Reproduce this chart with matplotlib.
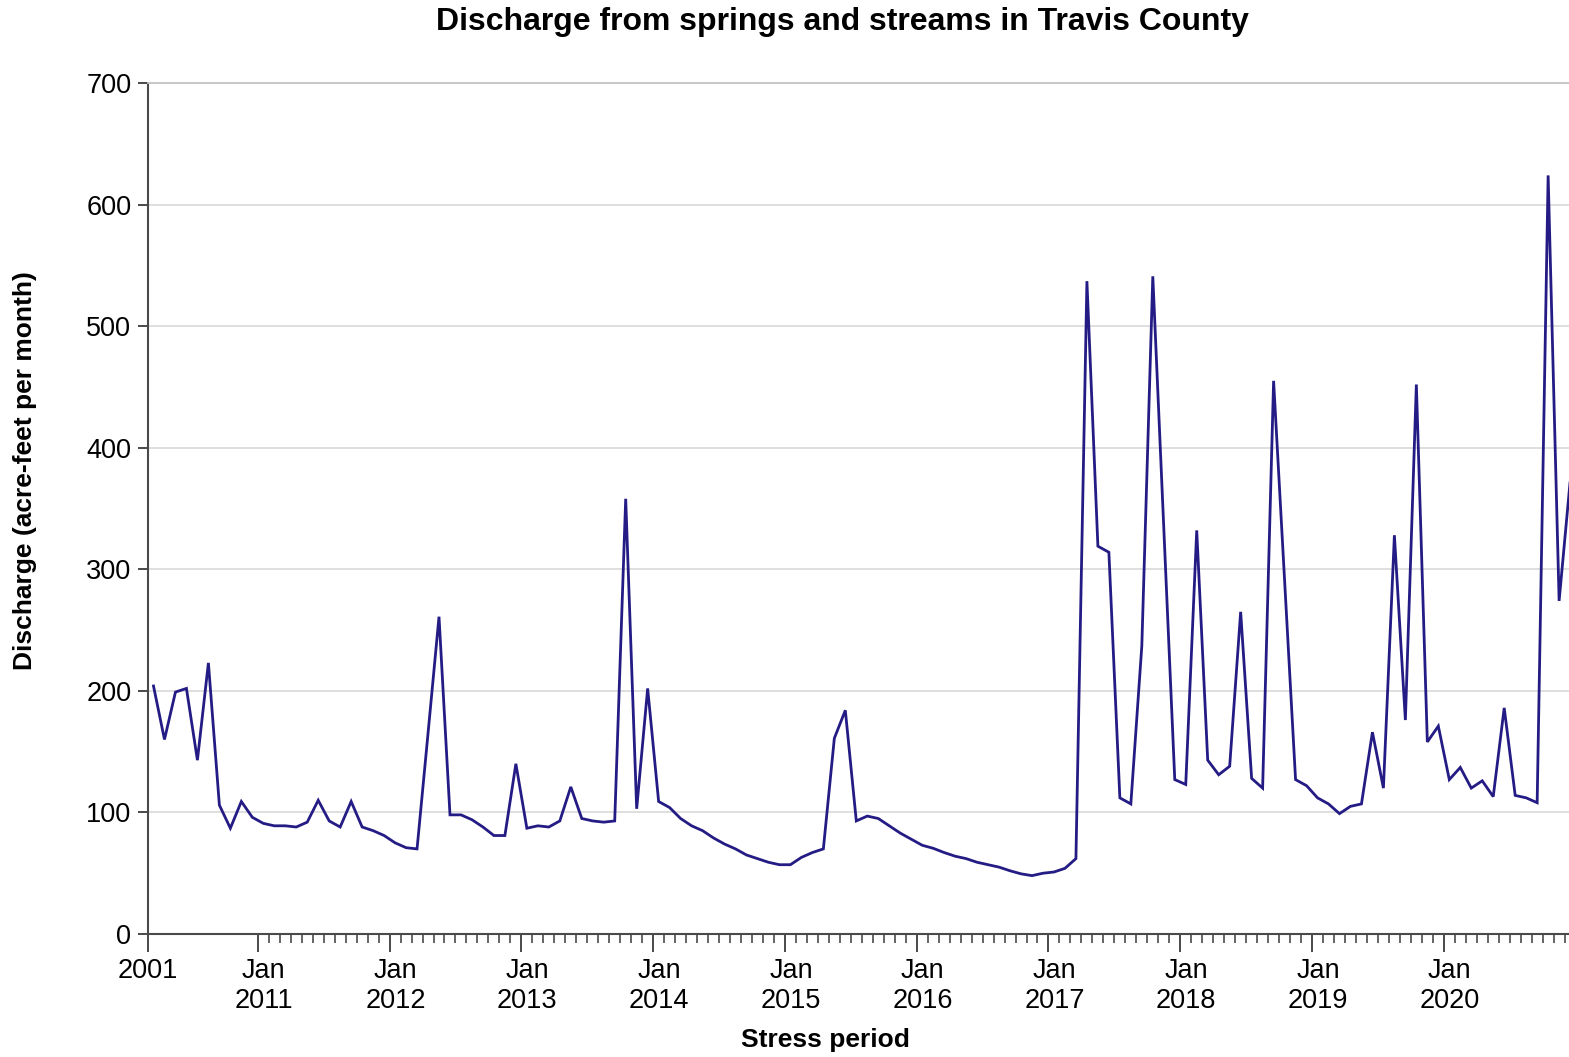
#!/usr/bin/env python3
# -*- coding: utf-8 -*-
"""
Discharge from springs and streams in Travis County
Monthly stress periods, model output in acre-feet per month.
"""

import numpy as np
import matplotlib
matplotlib.use('Agg')
import matplotlib.pyplot as plt
import matplotlib.transforms as mtransforms
from matplotlib import rcParams

rcParams['font.family'] = ['Liberation Sans', 'DejaVu Sans']
rcParams['font.size'] = 19.5
rcParams['figure.facecolor'] = 'white'
rcParams['axes.facecolor'] = 'white'

# Discharge per stress period (acre-feet per month), first period = Mar 2010
discharge = [
    204, 160, 199, 202, 143, 223, 106, 87, 109, 96,
    91, 89, 89, 88, 92, 110, 93, 88, 109, 88,
    85, 81, 75, 71, 70, 165, 261, 98, 98, 94,
    88, 81, 81, 140, 87, 89, 88, 93, 121, 95,
    93, 92, 93, 358, 103, 202, 109, 104, 95, 89,
    85, 79, 74, 70, 65, 62, 59, 57, 57, 63,
    67, 70, 161, 184, 93, 97, 95, 89, 83, 78,
    73, 70.5, 67, 64, 62, 59, 57, 55, 52, 49.5,
    48, 50, 51, 54, 62, 537, 319, 314, 112, 107,
    237, 541, 333, 127, 123, 332, 143, 131, 138, 265,
    128, 120, 455, 291, 127, 122, 112, 107, 99, 105,
    107, 166, 120, 328, 176, 452, 158, 171, 127, 137,
    120, 126, 113, 186, 114, 112, 108, 624, 274, 372,
]

# Etiquetas do eixo x: primeiro período (estado estacionário) e anos
tick_labels = ['2001'] + [f'Jan\n{ano}' for ano in range(2011, 2021)]
y_ticks = [0, 100, 200, 300, 400, 500, 600, 700]

LINE_COLOR = '#241c84'
AXIS_COLOR = '#4a4a4a'
GRID_COLOR = '#dcdcdc'


def plotar_descarga():
    fig = plt.figure(figsize=(15.69, 10.57), dpi=100)
    ax = fig.add_axes([148 / 1569, (1057 - 934) / 1057, 1421 / 1569, 851 / 1057])

    # months counted from Jan 2011; each stress period plotted mid-month
    periodo = np.arange(len(discharge))
    meses = periodo - 9.5
    ax.plot(meses, discharge, color=LINE_COLOR, linewidth=2.0, solid_joinstyle='miter')

    ax.set_xlim(-10, 119.4)
    ax.set_ylim(0, 700)

    # major ticks: first period + every January
    major = [-10] + [12 * k for k in range(len(tick_labels) - 1)]
    ax.set_xticks(major)
    ax.set_xticklabels(tick_labels)
    ax.set_xticks(np.arange(1, 120), minor=True)
    ax.set_yticks(y_ticks)

    ax.tick_params(axis='x', which='major', direction='out', length=13, width=1.4,
                   color=AXIS_COLOR, pad=4, labelsize=19.5)
    ax.tick_params(axis='x', which='minor', direction='out', length=6.5, width=1.2,
                   color=AXIS_COLOR)
    ax.tick_params(axis='y', direction='out', length=7, width=1.4,
                   color=AXIS_COLOR, pad=5, labelsize=19.5)

    # labels "Jan" are centred on the middle of January
    offset = mtransforms.ScaledTranslation(6 / 100, 0, fig.dpi_scale_trans)
    for lbl in ax.xaxis.get_majorticklabels()[1:]:
        lbl.set_transform(lbl.get_transform() + offset)

    ax.yaxis.grid(True, color=GRID_COLOR, linewidth=1.3)
    ax.set_axisbelow(True)

    for lado in ['left', 'bottom']:
        ax.spines[lado].set_color(AXIS_COLOR)
        ax.spines[lado].set_linewidth(1.5)
    ax.spines['top'].set_color('#c4c4c4')
    ax.spines['top'].set_linewidth(1.3)
    ax.spines['right'].set_visible(False)

    ax.set_xlabel('Stress period', fontsize=19, fontweight='bold', va='center')
    ax.xaxis.set_label_coords((825 - 148) / 1421, (934 - 1040) / 851)
    ax.set_ylabel('Discharge (acre-feet per month)', fontsize=19, fontweight='bold',
                  va='center')
    ax.yaxis.set_label_coords((25 - 148) / 1421, (934 - 471) / 851)

    fig.text(842 / 1569, 1 - 22 / 1057, 'Discharge from springs and streams in Travis County',
             ha='center', va='center', fontsize=23, fontweight='bold')

    fig.savefig('out.png', dpi=100)
    print('Grafico salvo: out.png')


if __name__ == '__main__':
    plotar_descarga()
